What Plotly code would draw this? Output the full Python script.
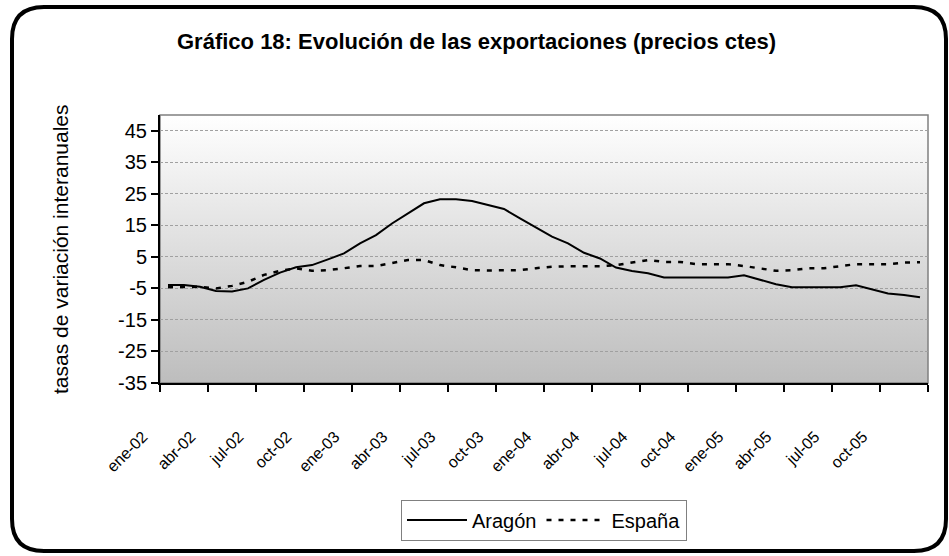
import base64

import plotly.graph_objects as go

# ── Data (tasas de variación interanuales) ────────────────────────────────────
MESES = ["ene", "feb", "mar", "abr", "may", "jun",
         "jul", "ago", "sep", "oct", "nov", "dic"]
YEARS = ["02", "03", "04", "05"]
MONTHS = [f"{m}-{y}" for y in YEARS for m in MESES]

ARAGON = [
    -3.9, -3.9, -4.5, -5.8, -6.0, -5.0, -2.3, 0.0, 1.7, 2.4, 4.2, 6.1,
    9.3, 11.9, 15.6, 18.8, 22.0, 23.3, 23.3, 22.7, 21.5, 20.2, 17.2, 14.4,
    11.4, 9.3, 6.3, 4.5, 1.6, 0.5, -0.2, -1.5, -1.5, -1.5, -1.5, -1.5,
    -0.8, -2.3, -3.7, -4.6, -4.6, -4.6, -4.6, -4.0, -5.2, -6.6, -7.1, -7.8,
]
ESPANA = [
    -4.6, -4.5, -4.5, -5.0, -4.2, -2.9, -0.7, 0.6, 1.4, 0.6, 0.8, 1.4,
    2.1, 2.1, 3.0, 4.0, 4.0, 2.4, 1.7, 0.8, 0.7, 0.7, 0.8, 1.4,
    1.9, 2.0, 2.0, 2.0, 2.4, 3.2, 4.0, 3.4, 3.4, 2.7, 2.7, 2.7,
    2.1, 1.4, 0.6, 0.8, 1.4, 1.4, 2.0, 2.7, 2.7, 2.7, 3.2, 3.3,
]
Y_TICKS = [-35, -25, -15, -5, 5, 15, 25, 35, 45]
Y_LABELS = ["-35", "-25", "-15", "-5", "5", "15", "25", "35", "45"]

TITLE = "Gráfico 18: Evolución de las exportaciones (precios ctes)"
Y_TITLE = "tasas de variación interanuales"
FONT = "Liberation Sans, Arial, sans-serif"

# ── Page geometry (pixels) ────────────────────────────────────────────────────
W, H = 949, 556
ML, MR, MT, MB = 160, 21, 115, 173
PW, PH = W - ML - MR, H - MT - MB


def px(x):
    return (x - ML) / PW


def py(y):
    return (H - MB - y) / PH


# grey gradient for the plot area, as in the Excel original
_svg = (
    "<svg xmlns='http://www.w3.org/2000/svg' width='10' height='100' "
    "preserveAspectRatio='none'><defs><linearGradient id='g' x1='0' y1='0' "
    "x2='0' y2='1'><stop offset='0' stop-color='#ffffff'/>"
    "<stop offset='1' stop-color='#bdbdbd'/></linearGradient></defs>"
    "<rect width='10' height='100' fill='url(#g)'/></svg>"
)
GRADIENT = "data:image/svg+xml;base64," + base64.b64encode(_svg.encode()).decode()

fig = go.Figure()
fig.add_trace(go.Scatter(
    x=MONTHS, y=ARAGON, name="Aragón", mode="lines",
    line=dict(color="#000000", width=2),
))
fig.add_trace(go.Scatter(
    x=MONTHS, y=ESPANA, name="España", mode="lines",
    line=dict(color="#000000", width=2.5, dash="5px,7px"),
))

# rounded outer frame
x0, x1, y0, y1, r = 12, 946, 7, 551, 32
frame = (
    f"M {px(x0 + r)},{py(y0)} L {px(x1 - r)},{py(y0)} "
    f"Q {px(x1)},{py(y0)} {px(x1)},{py(y0 + r)} "
    f"L {px(x1)},{py(y1 - r)} Q {px(x1)},{py(y1)} {px(x1 - r)},{py(y1)} "
    f"L {px(x0 + r)},{py(y1)} Q {px(x0)},{py(y1)} {px(x0)},{py(y1 - r)} "
    f"L {px(x0)},{py(y0 + r)} Q {px(x0)},{py(y0)} {px(x0 + r)},{py(y0)} Z"
)
fig.add_shape(type="path", path=frame, xref="paper", yref="paper",
              line=dict(color="#000000", width=4))
# plot-area border (grey top / right)
fig.add_shape(type="rect", xref="paper", yref="paper", x0=0, x1=1, y0=0, y1=1,
              line=dict(color="#808080", width=1.5), layer="below")

fig.add_layout_image(dict(
    source=GRADIENT, xref="paper", yref="paper", x=0, y=1,
    sizex=1, sizey=1, sizing="stretch", layer="below",
    xanchor="left", yanchor="top",
))

fig.add_annotation(
    text=f"<b>{TITLE}</b>", xref="paper", yref="paper",
    x=px(476), y=py(41), xanchor="center", yanchor="middle",
    showarrow=False, font=dict(family=FONT, size=22, color="#000000"),
)
fig.add_annotation(
    text=Y_TITLE, xref="paper", yref="paper", textangle=-90,
    x=px(60), y=py(249), xanchor="center", yanchor="middle",
    showarrow=False, font=dict(family=FONT, size=21, color="#000000"),
)

fig.update_xaxes(
    type="category", range=[-0.5, len(MONTHS) - 0.5],
    tickmode="linear", tick0=0, dtick=3, tickson="boundaries",
    ticks="outside", ticklen=7, tickwidth=1.5, tickcolor="#000000",
    showline=True, linecolor="#000000", linewidth=2,
    showgrid=False, zeroline=False,
    tickangle=-45, ticklabelstandoff=36, ticklabelshift=-25,
    tickfont=dict(family=FONT, size=16, color="#000000"),
)
fig.update_yaxes(
    range=[-35, 50], tickmode="array", tickvals=Y_TICKS, ticktext=Y_LABELS,
    ticks="outside", ticklen=7, tickwidth=1.5, tickcolor="#000000",
    showline=True, linecolor="#000000", linewidth=2,
    showgrid=True, gridcolor="#a0a0a0", gridwidth=1, griddash="3px,2px",
    zeroline=False,
    tickfont=dict(family=FONT, size=20, color="#000000"),
)

fig.update_layout(
    width=W, height=H, autosize=False,
    margin=dict(l=ML, r=MR, t=MT, b=MB),
    paper_bgcolor="#ffffff", plot_bgcolor="rgba(0,0,0,0)",
    font=dict(family=FONT, color="#000000"),
    showlegend=True,
    legend=dict(
        orientation="h", x=0.5, xanchor="center", y=py(520), yanchor="middle",
        bgcolor="#ffffff", bordercolor="#808080", borderwidth=1,
        font=dict(family=FONT, size=20, color="#000000"),
        itemwidth=60,
    ),
)

# page body has an 8px default margin; drop it so the figure sits at 0,0
fig.write_html("out.html", config={"displayModeBar": False},
               post_script="document.body.style.margin='0';")
